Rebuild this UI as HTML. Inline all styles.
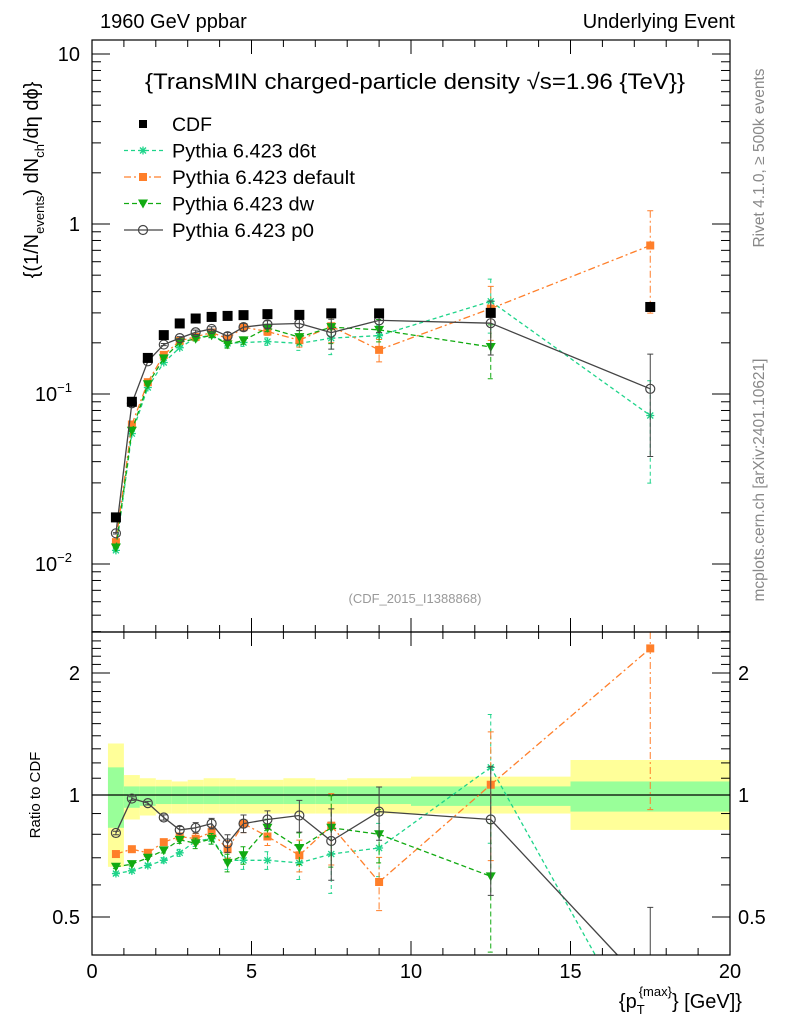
<!DOCTYPE html>
<html><head><meta charset="utf-8"><style>
html,body{margin:0;padding:0;background:#fff;width:786px;height:1024px;overflow:hidden}
svg{display:block}
svg text{font-family:"Liberation Sans",sans-serif}
</style></head><body>
<svg id="c" width="786" height="1024" xmlns="http://www.w3.org/2000/svg">
<text x="100" y="28" font-size="20">1960 GeV ppbar</text>
<text x="735" y="28" font-size="20" text-anchor="end">Underlying Event</text>
<text x="145" y="89" font-size="22" textLength="540" lengthAdjust="spacingAndGlyphs">{TransMIN charged-particle density √s=1.96 {TeV}}</text>
<text x="415" y="603" font-size="13" fill="#999" text-anchor="middle">(CDF_2015_I1388868)</text>
<text transform="translate(764,158) rotate(-90)" font-size="15.5" fill="#888" text-anchor="middle">Rivet 4.1.0, ≥ 500k events</text>
<text transform="translate(764,480) rotate(-90)" font-size="15.5" fill="#888" text-anchor="middle">mcplots.cern.ch [arXiv:2401.10621]</text>
<text transform="translate(38,180) rotate(-90)" font-size="20" text-anchor="middle">{(1/N<tspan font-size="13" dy="6">events</tspan><tspan dy="-6">) dN</tspan><tspan font-size="13" dy="6">ch</tspan><tspan dy="-6">/dη dϕ}</tspan></text>
<text transform="translate(40,795) rotate(-90)" font-size="15" text-anchor="middle">Ratio to CDF</text>
<text x="742" y="1008" font-size="20" text-anchor="end">{p<tspan font-size="13" dy="6">T</tspan><tspan font-size="13" dy="-18" dx="-6">{max}</tspan><tspan dy="12">} [GeV]}</tspan></text>
</svg>
<script>
const xs=[0.75,1.25,1.75,2.25,2.75,3.25,3.75,4.25,4.75,5.5,6.5,7.5,9,12.5,17.5];
const binLo=[0.5,1,1.5,2,2.5,3,3.5,4,4.5,5,6,7,8,10,15];
const binHi=[1,1.5,2,2.5,3,3.5,4,4.5,5,6,7,8,10,15,20];
const cdf=[0.0188,0.09,0.163,0.222,0.26,0.278,0.284,0.288,0.291,0.295,0.292,0.298,0.298,0.3,0.325];
const rP0=[0.806,0.98,0.955,0.88,0.82,0.83,0.85,0.76,0.85,0.87,0.89,0.77,0.91,0.87,0.33];
const rDef=[0.715,0.735,0.72,0.765,0.79,0.78,0.81,0.735,0.85,0.79,0.71,0.84,0.61,1.06,2.3];
const rDw=[0.665,0.675,0.70,0.73,0.775,0.76,0.78,0.68,0.71,0.83,0.74,0.83,0.80,0.63];
const rD6t=[0.64,0.65,0.67,0.69,0.72,0.77,0.78,0.69,0.69,0.69,0.68,0.715,0.74,1.17,0.23];
const relErr=[0.01,0.01,0.01,0.015,0.02,0.03,0.03,0.05,0.05,0.05,0.09,0.2,0.15,0.35,0.6];
const yelUp=[1.34,1.12,1.1,1.09,1.08,1.09,1.1,1.1,1.09,1.09,1.1,1.09,1.1,1.11,1.22];
const yelDn=[0.665,0.87,0.89,0.9,0.9,0.9,0.9,0.9,0.9,0.9,0.9,0.9,0.9,0.9,0.82];
const grnUp=[1.17,1.05,1.05,1.05,1.05,1.05,1.05,1.05,1.05,1.05,1.05,1.05,1.05,1.05,1.08];
const grnDn=[0.83,0.93,0.94,0.95,0.95,0.95,0.95,0.95,0.95,0.95,0.95,0.95,0.95,0.94,0.91];
const xTicks=[0,5,10,15,20];
const ratioTicks=[0.5,1,2];

const NS='http://www.w3.org/2000/svg',svg=document.getElementById('c');
const L=92,R=730,T=40,M=632,B=955;
const X=v=>L+(v/20)*(R-L);
const Y=v=>224-170*Math.log10(v);
const YR=v=>795-122*Math.log2(v);
function mk(t,a,p){const e=document.createElementNS(NS,t);for(const k in a)e.setAttribute(k,a[k]);(p||svg).appendChild(e);return e;}
const g1=mk('g',{});
const gb=mk('g',{});
for(let i=0;i<binLo.length;i++){
 let r=mk('rect',{x:X(binLo[i]),y:YR(yelUp[i]),width:X(binHi[i])-X(binLo[i]),height:YR(yelDn[i])-YR(yelUp[i]),fill:'#ffff99'},gb);
 
 r=mk('rect',{x:X(binLo[i]),y:YR(grnUp[i]),width:X(binHi[i])-X(binLo[i]),height:YR(grnDn[i])-YR(grnUp[i]),fill:'#99ff99'},gb);
 
}
mk('line',{x1:L,x2:R,y1:YR(1),y2:YR(1),stroke:'#000','stroke-width':1.3},gb);
const gm=mk('g',{},g1);
function marker(p,type,x,y,col){
 let e;
 if(type=='sq')e=mk('rect',{x:x-5,y:y-5,width:10,height:10,fill:col},p);
 else if(type=='sqs')e=mk('rect',{x:x-4,y:y-4,width:8,height:8,fill:col},p);
 else if(type=='tri')e=mk('path',{d:`M${x-5},${y-4}L${x+5},${y-4}L${x},${y+5}Z`,fill:col},p);
 else if(type=='circ')e=mk('circle',{cx:x,cy:y,r:4.5,fill:'none',stroke:col,'stroke-width':1.2},p);
 else {e=mk('path',{d:`M${x-4},${y}H${x+4}M${x},${y-4}V${y+4}M${x-3},${y-3}L${x+3},${y+3}M${x-3},${y+3}L${x+3},${y-3}`,stroke:col,'stroke-width':1.3},p);}
 return e;
}
// clip polyline segments vertically to [lo,hi]
function clipPts(pts,lo,hi){
 const out=[];
 for(let i=0;i<pts.length-1;i++){
  let [x1,y1]=pts[i],[x2,y2]=pts[i+1];
  const cl=(xa,ya,xb,yb)=>{ if(ya>hi){xa=xa+(xb-xa)*(hi-ya)/(yb-ya);ya=hi;} if(ya<lo){xa=xa+(xb-xa)*(lo-ya)/(yb-ya);ya=lo;} return [xa,ya];};
  if((y1>hi&&y2>hi)||(y1<lo&&y2<lo))continue;
  const a=cl(x1,y1,x2,y2),b=cl(x2,y2,x1,y1);
  out.push(`M${a[0]},${a[1]}L${b[0]},${b[1]}`);
 }
 return out.join('');
}
const cy=(y,lo,hi)=>Math.min(hi,Math.max(lo,y));
const series=[
 {r:rD6t,col:'#1ed48a',dash:'4,3',m:'star',name:'d6t'},
 {r:rDef,col:'#ff7f2a',dash:'7,3,2,3',m:'sqs',name:'default'},
 {r:rDw,col:'#11aa11',dash:'5,3',m:'tri',name:'dw'},
 {r:rP0,col:'#444',dash:'',m:'circ',name:'p0'}];
series.forEach(s=>{
 [[gm,i=>Y(s.r[i]*cdf[i]),i=>s.r[i]*cdf[i],Y,T,M],[gb,i=>YR(s.r[i]),i=>s.r[i],YR,M,B]].forEach(([p,fy,fv,F,lo,hi])=>{
  const g=mk('g',{},p);
  const pts=s.r.map((v,i)=>[X(xs[i]),fy(i)]);
  const pl=mk('path',{d:clipPts(pts,lo,hi),fill:'none',stroke:s.col,'stroke-width':1.3,'stroke-dasharray':s.dash},g);
  
  s.r.forEach((v,i)=>{
   const val=fv(i),e=relErr[i],x=X(xs[i]);
   const yu=F(val*(1+e)),yd=F(Math.max(val*(1-e),1e-4));
   if(!(yu>hi||yd<lo)){
    const a=cy(yu,lo,hi),b=cy(yd,lo,hi);
    let d=`M${x},${a}V${b}`;
    if(yu>=lo)d+=`M${x-3},${yu}h6`;
    if(yd<=hi)d+=`M${x-3},${yd}h6`;
    mk('path',{d:d,stroke:s.col,'stroke-width':1,'stroke-dasharray':s.dash},g);
   }
   const my=fy(i);
   if(my>=lo&&my<=hi){const m=marker(g,s.m,x,my,s.col);
    }
  });
 });
});
cdf.forEach((v,i)=>{const m=marker(gm,'sq',X(xs[i]),Y(v),'#000');
 });
mk('rect',{x:L,y:T,width:R-L,height:M-T,fill:'none',stroke:'#000','stroke-width':1.2});
mk('rect',{x:L,y:M,width:R-L,height:B-M,fill:'none',stroke:'#000','stroke-width':1.2});
for(let v=0;v<=20;v++){const maj=v%5==0,x=X(v),l=maj?14:7;
 [[T,1],[M,-1],[M,1],[B,-1]].forEach(([y,d])=>mk('line',{x1:x,x2:x,y1:y,y2:y+d*l,stroke:'#000'}));}
xTicks.forEach(v=>{const t=mk('text',{x:X(v),y:978,'font-size':20,'text-anchor':'middle'});t.textContent=v;
 });
for(let d=-3;d<=1;d++)for(let k=1;k<10;k++){const v=k*Math.pow(10,d),y=Y(v);if(y<T||y>M)continue;
 const l=k==1?18:9;mk('line',{x1:L,x2:L+l,y1:y,y2:y,stroke:'#000'});mk('line',{x1:R,x2:R-l,y1:y,y2:y,stroke:'#000'});}
[['10',10,''],['1',1,''],['10',0.1,'−1'],['10',0.01,'−2']].forEach(([b,v,e])=>{
 const t=mk('text',{x:e?72:80,y:Y(v)+7,'font-size':20,'text-anchor':'end'});t.textContent=b;
 
 if(e){const s=mk('tspan',{'font-size':13,dy:-9},t);s.textContent=e;}});
for(let v=0.4;v<=2.5;v+=0.1){const y=YR(v);if(y<M||y>B)continue;const maj=[0.5,1,2].some(m=>Math.abs(m-v)<1e-6);
 const l=maj?18:9;mk('line',{x1:L,x2:L+l,y1:y,y2:y,stroke:'#000'});mk('line',{x1:R,x2:R-l,y1:y,y2:y,stroke:'#000'});}
ratioTicks.forEach(v=>{[[80,'end'],[738,'start']].forEach(([x,a])=>{const t=mk('text',{x:x,y:YR(v)+7,'font-size':20,'text-anchor':a});t.textContent=v;
 });});
const leg=mk('g',{});
const le=[['CDF','#000','','sq',40],['Pythia 6.423 d6t','#1ed48a','4,3','star',144],['Pythia 6.423 default','#ff7f2a','7,3,2,3','sqs',183],['Pythia 6.423 dw','#11aa11','5,3','tri',142],['Pythia 6.423 p0','#444','','circ',142]];
le.forEach((d,i)=>{const y=124+i*26.5;const g=mk('g',{},leg);
 if(i>0)mk('line',{x1:124,x2:163,y1:y,y2:y,stroke:d[1],'stroke-width':1.2,'stroke-dasharray':d[2]},g);
 marker(g,i==0?'sqs':d[3],143,y,d[1]);
 const t=mk('text',{x:172,y:y+7,'font-size':19,textLength:d[4],lengthAdjust:'spacingAndGlyphs'},g);t.textContent=d[0];});
</script>
</body></html>
